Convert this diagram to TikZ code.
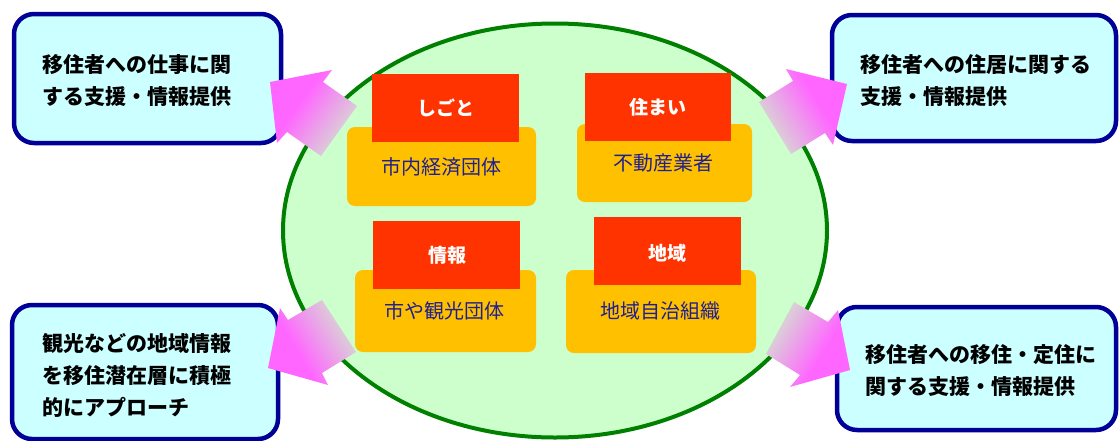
\documentclass[tikz,border=0pt]{standalone}
\usepackage{fontspec}
\newfontfamily\jp{Noto Sans CJK JP}
\definecolor{boxfill}{HTML}{CCFFFF}
\definecolor{boxline}{HTML}{000099}
\definecolor{ellfill}{HTML}{CCFFCC}
\definecolor{ellline}{HTML}{008000}
\definecolor{orangefill}{HTML}{FFC000}
\definecolor{redfill}{HTML}{FF3300}
\definecolor{navytext}{HTML}{202090}
\definecolor{pinkhead}{HTML}{FF66FF}
\definecolor{tailgray}{HTML}{D4E2D0}
\pgfdeclarehorizontalshading{arrowshade}{100bp}{color(0bp)=(tailgray); color(25bp)=(tailgray); color(60bp)=(pinkhead); color(100bp)=(pinkhead)}
\tikzset{
  infobox/.style={draw=boxline, fill=boxfill, line width=4.5pt, rounded corners=20pt},
  infotext/.style={font=\jp\bfseries\fontsize{21}{32}\selectfont, text=black, align=left, inner sep=0pt, anchor=west},
  orgbox/.style={fill=orangefill, rounded corners=8pt},
  tagbox/.style={fill=redfill},
  orgtext/.style={font=\jp\fontsize{20}{24}\selectfont, text=navytext, inner sep=0pt},
  tagtext/.style={font=\jp\bfseries\fontsize{19}{24}\selectfont, text=white, inner sep=0pt},
  bigarrow/.style={shading=arrowshade}
}
\begin{document}
\begin{tikzpicture}[x=1pt,y=-1pt]
\useasboundingbox (0,0) rectangle (1120,440);
% central ellipse
\draw[fill=ellfill, draw=ellline, line width=4pt] (555,230.5) ellipse [x radius=272, y radius=207];
% info boxes
\draw[infobox] (14,14) rectangle (281,143);
\draw[infobox] (832,15) rectangle (1116,141);
\draw[infobox] (12,305) rectangle (278,439);
\draw[infobox] (837,307) rectangle (1116,430);
\node[infotext] (tltext) at (42,81) {移住者への仕事に関\\する支援・情報提供};
\node[infotext] (trtext) at (860,81) {移住者への住居に関する\\支援・情報提供};
\node[infotext] (bltext) at (42,375) {観光などの地域情報\\を移住潜在層に積極\\的にアプローチ};
\node[infotext] (brtext) at (865,371) {移住者への移住・定住に\\関する支援・情報提供};
% arrows
\shade[bigarrow, shading angle=144.6] (270,82) -- (332,70) -- (323,82) -- (357,106) -- (321,156) -- (287,132) -- (277,143) -- cycle;
\shade[bigarrow, shading angle=31.5] (847,84) -- (786,69) -- (793,81) -- (759,102) -- (791,154) -- (825,133) -- (833,145) -- cycle;
\shade[bigarrow, shading angle=210.8] (268,368) -- (280,308) -- (288,320) -- (322,300) -- (356,352) -- (322,373) -- (328,385) -- cycle;
\shade[bigarrow, shading angle=-30.8] (850,370) -- (838,310) -- (828,322) -- (794,302) -- (766,354) -- (800,375) -- (790,387) -- cycle;
% organisation boxes
\fill[orgbox] (347,127) rectangle (536,206);
\fill[orgbox] (577,124) rectangle (752,202);
\fill[orgbox] (355,270) rectangle (536,352);
\fill[orgbox] (566,270) rectangle (756,353);
\fill[tagbox] (372,74) rectangle (519,142);
\fill[tagbox] (585,73) rectangle (731,141);
\fill[tagbox] (373,221) rectangle (520,289);
\fill[tagbox] (594,217) rectangle (741,285);
\node[tagtext] (t1) at (445.5,108) {しごと};
\node[tagtext] (t2) at (658,107) {住まい};
\node[tagtext] (t3) at (447,255) {情報};
\node[tagtext] (t4) at (667,253) {地域};
\node[orgtext] (o1) at (441,167) {市内経済団体};
\node[orgtext] (o2) at (663,163) {不動産業者};
\node[orgtext] (o3) at (444,311) {市や観光団体};
\node[orgtext] (o4) at (660,311) {地域自治組織};
\end{tikzpicture}
\end{document}
